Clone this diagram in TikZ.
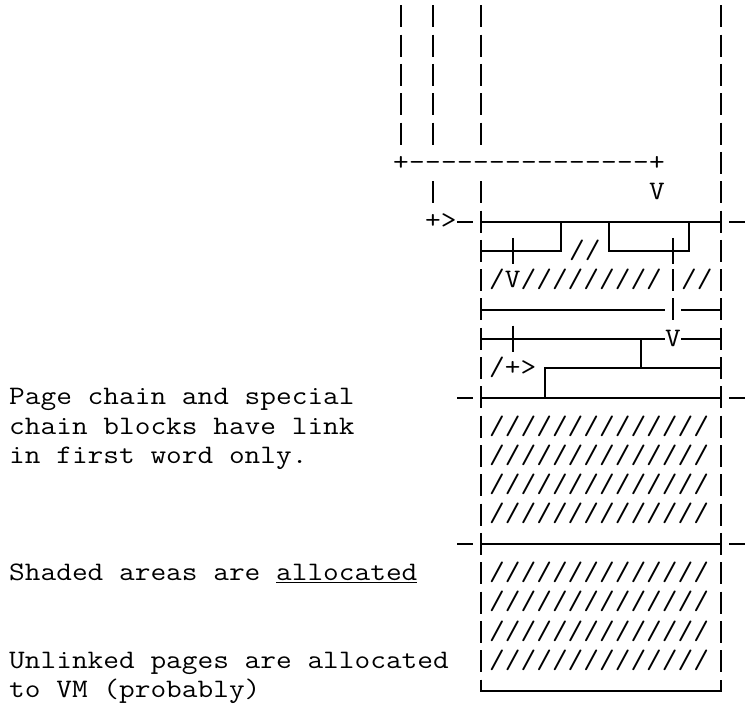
\documentclass[tikz,border=0pt]{standalone}
\begin{document}
\begin{tikzpicture}[x=16pt,y=-29.31pt,
  ln/.style={line width=2pt},
  bar/.style={line width=2pt},
  txt/.style={font=\ttfamily\fontsize{26.67}{29.31}\selectfont,xscale=1.143,inner sep=0pt,anchor=base west}]
\useasboundingbox (0,0) rectangle (46.5625,24.121);
\begin{scope}[shift={(1.0625,0.563)}]
% ascii bars, one per text row
\foreach \c in {24,26,29,44}
  \foreach \r in {0,...,4} \draw[bar] (\c,\r-0.38) -- (\c,\r+0.37);
\foreach \r in {5,...,22} \draw[bar] (44,\r-0.38) -- (44,\r+0.37);
\foreach \r in {6,...,22} \draw[bar] (29,\r-0.38) -- (29,\r+0.37);
\draw[bar] (26,6-0.38) -- (26,6+0.37);
\foreach \r in {9,10} \draw[bar] (41,\r-0.38) -- (41,\r+0.37);
% block boundaries
\draw[ln] (29,7) -- (44,7);
\draw[ln] (29,8) -- (34,8) -- (34,7);
\draw[ln] (37,7) -- (37,8) -- (42,8) -- (42,7);
\draw[ln] (29,10) -- (40.5,10) (41.5,10) -- (44,10);
\draw[ln] (29,11) -- (40.5,11) (41.5,11) -- (44,11);
\draw[ln] (39,11) -- (39,12);
\draw[ln] (33,13) -- (33,12) -- (44,12);
\draw[ln] (29,13) -- (44,13);
\draw[ln] (29,18) -- (44,18);
\draw[ln] (29,22.62) -- (29,23) -- (44,23) -- (44,22.62);
\foreach \r in {7,13,18} \draw[ln] (27.5,\r) -- (28.5,\r) (44.5,\r) -- (45.5,\r);
% link crossings
\draw[ln] (31,7.55) -- (31,8.45);
\draw[ln] (41,7.55) -- (41,8.45);
\draw[ln] (31,10.55) -- (31,11.45);
% chain head
\node[txt] (tl) at (23.5,5.246) {+};
\foreach \c in {25,...,39} \node[txt] (h\c) at (\c-0.5,5.246) {-};
\node[txt] (tr) at (39.5,5.246) {+};
\node[txt] (vtop) at (39.5,6.246) {V};
\node[txt] (arrin) at (25.5,7.246) {+>};
\node[txt] (gap) at (34.5,8.246) {//};
\node[txt] (row9a) at (29.5,9.246) {/V/////////};
\node[txt] (row9b) at (41.5,9.246) {//};
\node[txt] (vmid) at (40.5,11.246) {V};
\node[txt] (arrsp) at (29.5,12.246) {/+>};
% shaded pages
\foreach \r in {14,15,16,17,19,20,21,22}
  \node[txt] (s\r) at (29.5,\r+0.246) {//////////////};
% notes
\node[txt] (note1) at (-0.5,13.246) {Page chain and special};
\node[txt] (note2) at (-0.5,14.246) {chain blocks have link};
\node[txt] (note3) at (-0.5,15.246) {in first word only.};
\node[txt] (shaded) at (-0.5,19.246) {Shaded areas are \underline{allocated}};
\node[txt] (unl1) at (-0.5,22.246) {Unlinked pages are allocated};
\node[txt] (unl2) at (-0.5,23.246) {to VM (probably)};
\end{scope}
\end{tikzpicture}
\end{document}
